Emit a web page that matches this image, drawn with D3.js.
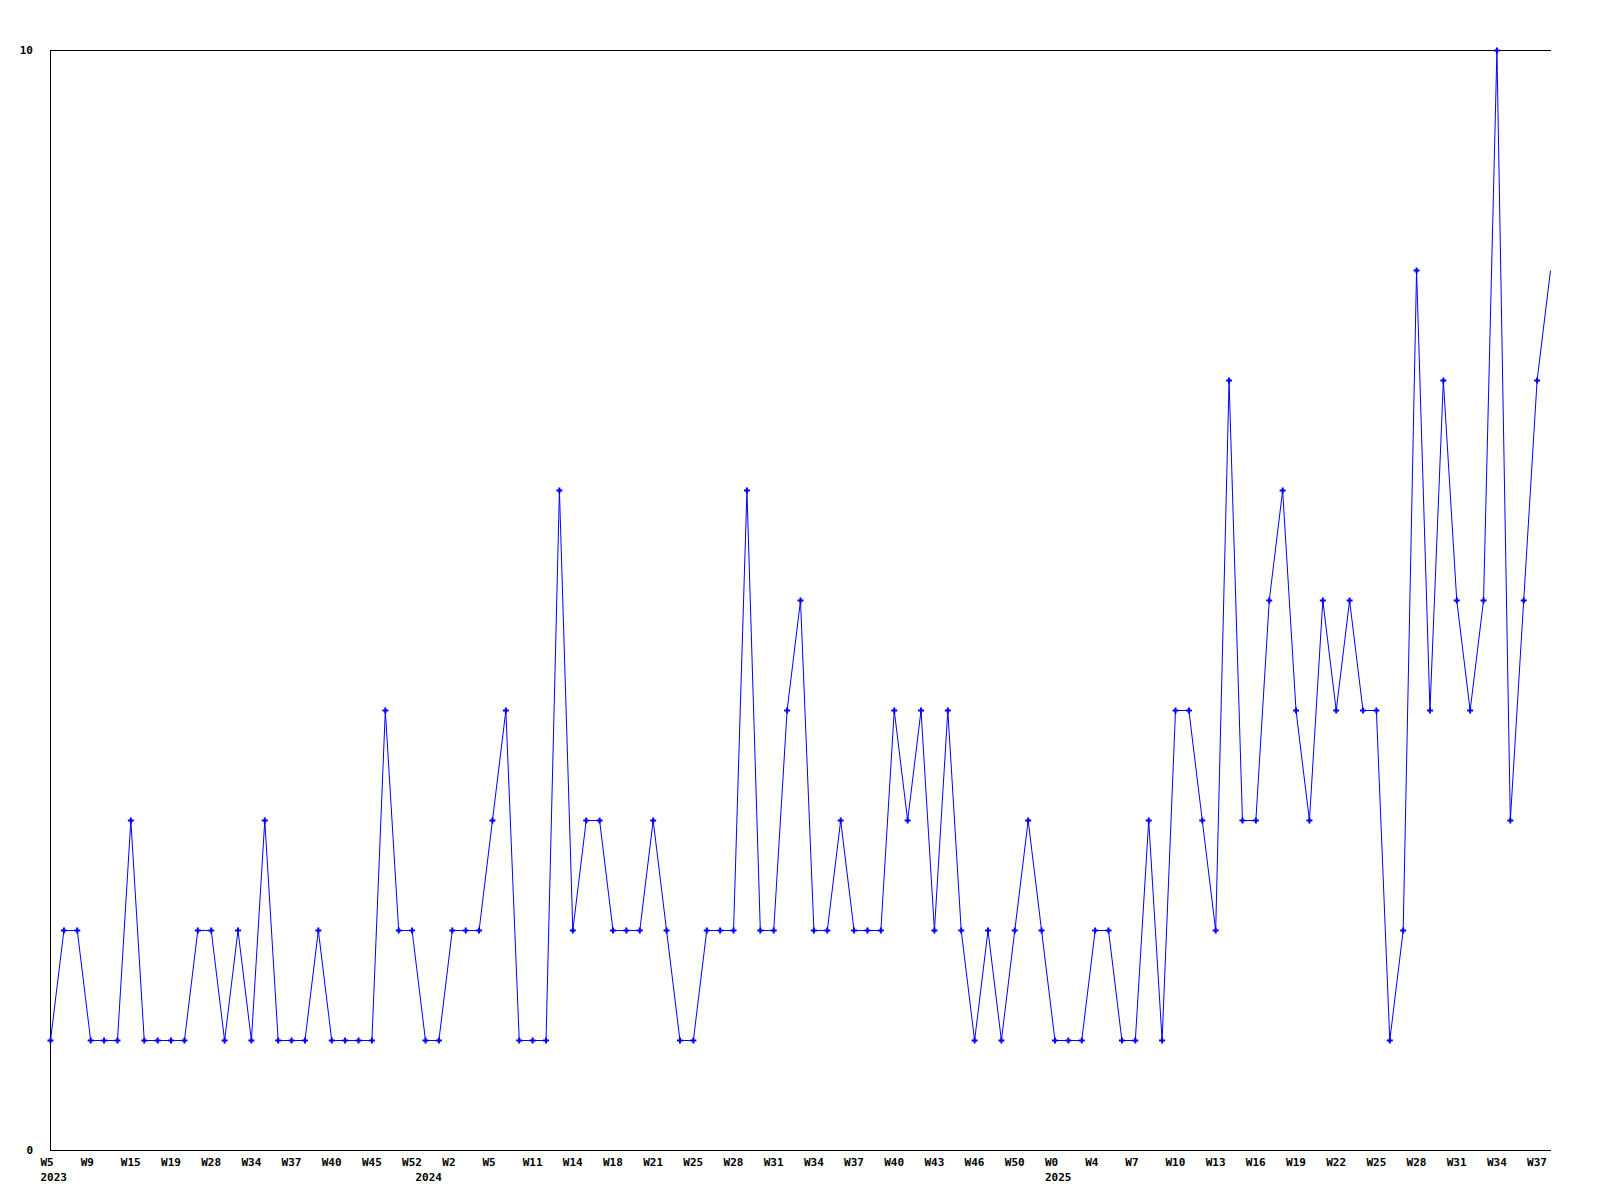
<!DOCTYPE html>
<html>
<head>
<meta charset="utf-8">
<script src="https://cdn.jsdelivr.net/npm/d3@7"></script>
<style>
  body { margin: 0; background: #fff; }
  svg text { font-family: "DejaVu Sans Mono", monospace; font-size: 11px; font-weight: bold; fill: #000; }
</style>
</head>
<body>
<div id="chart"></div>
<script>
// weekly counts, one per point
var counts = [1,2,2,1,1,1,3,1,1,1,
              1,2,2,1,2,1,3,1,1,1,
              2,1,1,1,1,4,2,2,1,1,
              2,2,2,3,4,1,1,1,6,2,
              3,3,2,2,2,3,2,1,1,2,
              2,2,6,2,2,4,5,2,2,3,
              2,2,2,4,3,4,2,4,2,1,
              2,1,2,3,2,1,1,1,2,2,
              1,1,3,1,4,4,3,2,7,3,
              3,5,6,4,3,5,4,5,4,4,
              1,2,8,4,7,5,4,5,10,3,
              5,7,8];

// a label on every 3rd point
var weekLabels = ["W5","W9","W15","W19","W28","W34","W37","W40","W45","W52",
                  "W2","W5","W11","W14","W18","W21","W25","W28","W31","W34",
                  "W37","W40","W43","W46","W50",
                  "W0","W4","W7","W10","W13","W16","W19","W22","W25","W28",
                  "W31","W34","W37"];
var labelStep = 3;

var yearLabels = ["2023", "2024", "2025"];
var yearStart = [0, 28, 75];   // point index where each year begins

var yTicks = [0, 10];

// stage dimensions (note: "top" is taken by window, so plot* names)
var chartWidth = 1600, chartHeight = 1200;
var plotLeft = 50, plotTop = 50, plotRight = 1551, plotBottom = 1150;

var svg = d3.select("#chart").append("svg")
    .attr("width", chartWidth)
    .attr("height", chartHeight);

var x = d3.scaleLinear().domain([0, counts.length - 1]).range([plotLeft + 0.5, plotRight - 0.5]);
var y = d3.scaleLinear().domain([0, 10]).range([plotBottom, plotTop]);

// frame: left, top and bottom lines only
svg.append("line").attr("x1", plotLeft + 0.5).attr("x2", plotLeft + 0.5).attr("y1", plotTop).attr("y2", plotBottom + 1)
   .attr("stroke", "#000").attr("shape-rendering", "crispEdges");
svg.append("line").attr("x1", plotLeft).attr("x2", plotRight).attr("y1", plotTop + 0.5).attr("y2", plotTop + 0.5)
   .attr("stroke", "#000").attr("shape-rendering", "crispEdges");
svg.append("line").attr("x1", plotLeft).attr("x2", plotRight).attr("y1", plotBottom + 0.5).attr("y2", plotBottom + 0.5)
   .attr("stroke", "#000").attr("shape-rendering", "crispEdges");

// y labels
svg.selectAll(".ylab").data(yTicks).enter().append("text")
   .attr("class", "ylab")
   .attr("x", plotLeft - 17)
   .attr("y", function(d) { return y(d) + 4; })
   .attr("text-anchor", "end")
   .text(function(d) { return d; });

// week labels
svg.selectAll(".wlab").data(weekLabels).enter().append("text")
   .attr("class", "wlab")
   .attr("x", function(d, i) { return x(i * labelStep) - 10; })
   .attr("y", 1166)
   .text(function(d) { return d; });

// year labels
svg.selectAll(".yrlab").data(yearLabels).enter().append("text")
   .attr("class", "yrlab")
   .attr("x", function(d, i) { return x(yearStart[i]) - 10; })
   .attr("y", 1181)
   .text(function(d) { return d; });

var line = d3.line()
    .x(function(d, i) { return x(i); })
    .y(function(d) { return y(d) + 0.5; });

svg.append("path")
   .datum(counts)
   .attr("d", line)
   .attr("fill", "none")
   .attr("stroke", "#0000ff")
   .attr("stroke-width", 1);

// markers (last point is the open week, no marker)
var cross = d3.symbol().type(d3.symbolCross).size(20);
svg.selectAll(".pt").data(counts.slice(0, counts.length - 1)).enter().append("path")
   .attr("class", "pt")
   .attr("d", cross)
   .attr("transform", function(d, i) { return "translate(" + x(i) + "," + (y(d) + 0.5) + ")"; })
   .attr("fill", "#0000ff");
</script>
</body>
</html>
